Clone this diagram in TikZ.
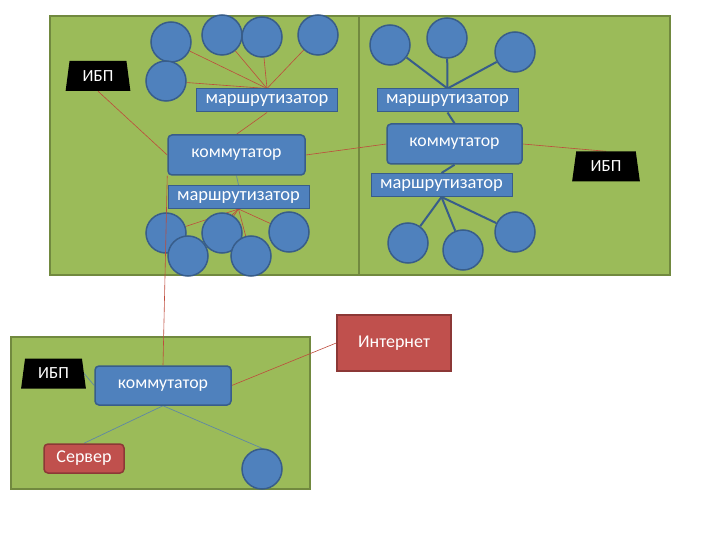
\documentclass[tikz,border=0pt]{standalone}
\usepackage{fontspec}
\setmainfont{Carlito}
\usetikzlibrary{shapes.geometric}
\definecolor{panelfill}{RGB}{155,187,89}
\definecolor{paneldraw}{RGB}{113,137,63}
\definecolor{bluefill}{RGB}{79,129,189}
\definecolor{bluedraw}{RGB}{56,93,138}
\definecolor{redfill}{RGB}{192,80,77}
\definecolor{reddraw}{RGB}{140,56,54}
\definecolor{redline}{RGB}{190,75,60}
\definecolor{grayline}{RGB}{95,135,165}
\pgfdeclarelayer{bg}
\pgfdeclarelayer{lines}
\pgfsetlayers{bg,lines,main}
\tikzset{
  panel/.style={draw=paneldraw, line width=1.5pt, fill=panelfill, minimum width=#1, inner sep=0pt},
  pc/.style={circle, draw=bluedraw, line width=1.5pt, fill=bluefill, minimum size=40pt, inner sep=0pt},
  router/.style={draw=bluedraw, line width=1pt, fill=bluefill, text=white, minimum width=141pt, minimum height=23pt, inner sep=0pt, font=\fontsize{18.5}{18.5}\selectfont},
  switchbox/.style={draw=bluedraw, line width=1.5pt, fill=bluefill, rounded corners=4pt, text=white, minimum width=137pt, minimum height=40pt, inner sep=0pt, font=\fontsize{17.8}{17.8}\selectfont},
  redbox/.style={draw=reddraw, line width=1.5pt, fill=redfill, text=white, inner sep=0pt, font=\fontsize{18}{18}\selectfont},
  ups/.style={trapezium, trapezium left angle=79, trapezium right angle=79, trapezium stretches=true, fill=black, text=white, minimum width=65pt, minimum height=30pt, inner sep=0pt, font=\fontsize{17}{17}\selectfont},
  rl/.style={draw=redline, line width=0.6pt},
  bl/.style={draw=bluedraw, line width=2pt},
  gl/.style={draw=grayline, line width=0.7pt},
}
\begin{document}
\begin{tikzpicture}[x=1pt,y=-1pt]
\useasboundingbox (0,0) rectangle (720,540);
\begin{pgfonlayer}{bg}
\node[panel=309pt, minimum height=259pt] (pL) at (204.5,145.5) {};
\node[panel=311pt, minimum height=259pt] (pR) at (514.5,145.5) {};
\node[panel=299pt, minimum height=152pt] (pB) at (160.5,413) {};
\end{pgfonlayer}
% left panel
\node[pc] (a1) at (171,42) {};
\node[pc] (a2) at (222,35) {};
\node[pc] (a3) at (262,37) {};
\node[pc] (a4) at (318,35) {};
\node[pc] (a5) at (166,81) {};
\node[router] (r1) at (267,100.5) {маршрутизатор};
\node[ups] (u1) at (98,76) {ИБП};
\node[switchbox] (swL) at (236.5,155) {коммутатор};
\node[router] (r2) at (238.5,197) {маршрутизатор};
\node[pc] (b1) at (166,233) {};
\node[pc] (b2) at (188,256) {};
\node[pc] (b3) at (222,233) {};
\node[pc] (b4) at (251,256) {};
\node[pc] (b5) at (289,232) {};
% right panel
\node[pc] (c1) at (390,45) {};
\node[pc] (c2) at (447,38) {};
\node[pc] (c3) at (515,52) {};
\node[router] (r3) at (447.5,100.5) {маршрутизатор};
\node[switchbox, minimum width=135pt] (swR) at (454.5,144) {\raisebox{2pt}{коммутатор}};
\node[router] (r4) at (441.5,185) {маршрутизатор};
\node[pc] (d1) at (408,243) {};
\node[pc] (d2) at (463,250) {};
\node[pc] (d3) at (515,232) {};
\node[ups, minimum width=68pt] (u2) at (606,166.5) {ИБП};
% bottom panel
\node[ups] (u3) at (53.5,373.5) {ИБП};
\node[switchbox, minimum width=136pt, minimum height=39pt] (swB) at (163,385.5) {коммутатор};
\node[redbox, rounded corners=4pt, minimum width=80pt, minimum height=29pt] (srv) at (84,458.5) {Сервер};
\node[pc] (e1) at (262,469) {};
\node[redbox, minimum width=114pt, minimum height=56pt] (inet) at (394,343) {Интернет};
\begin{pgfonlayer}{lines}
\foreach \c in {a1,a2,a3,a4,a5} \draw[rl] (r1.north) -- (\c);
\foreach \c in {b1,b2,b3,b4,b5} \draw[rl] (r2.south) -- (\c);
\draw[rl] (u1.south) -- (swL.west);
\draw[rl] (r1.south) -- (swL.north);
\draw[gl] (swL.south) -- (r2.north);
\draw[rl] (swL.east) -- (swR.west);
\foreach \c in {c1,c2,c3} \draw[bl] (r3.north) -- (\c);
\draw[bl] (r3.south) -- (swR.north);
\draw[bl] (swR.south) -- (r4.north);
\foreach \c in {d1,d2,d3} \draw[bl] (r4.south) -- (\c);
\draw[rl] (swR.east) -- (u2.north);
\draw[gl] (u3.east) -- (swB.west);
\draw[gl] (swB.south) -- (srv.north);
\draw[gl] (swB.south) -- (e1.north);
\draw[rl] (swB.east) -- (inet.west);
\end{pgfonlayer}
\draw[rl] (swL.south west) -- (swB.north);
\end{tikzpicture}
\end{document}
